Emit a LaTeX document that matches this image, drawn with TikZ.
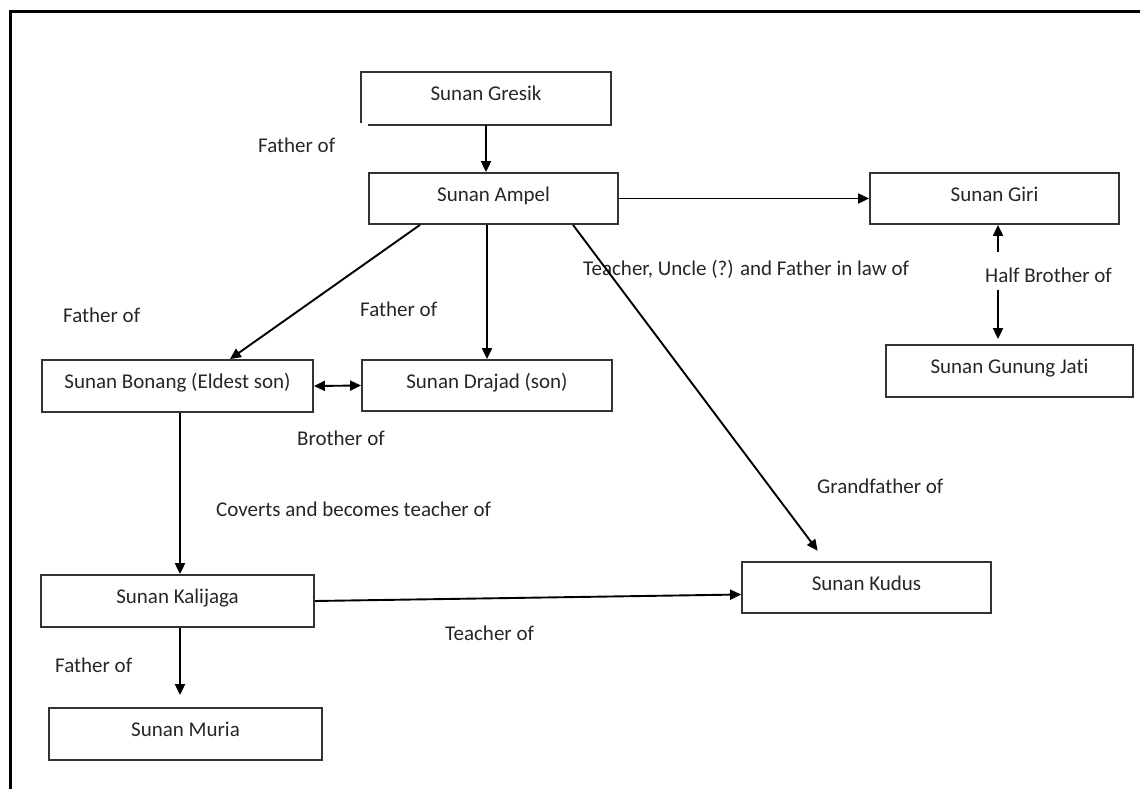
\documentclass[tikz,border=0pt]{standalone}
\usepackage{fontspec}
\setmainfont{Carlito}[Ligatures=NoCommon]
\usetikzlibrary{arrows.meta}

\begin{document}
\begin{tikzpicture}[x=1pt, y=-1pt,
>={Triangle[length=11pt, width=10pt]},
sunannode/.style={rectangle, draw=black!80, line width=1.8pt, text=black!85, font=\fontsize{21}{25}\selectfont, text height=16pt, text depth=11pt, inner sep=0pt, minimum height=51pt},
relation/.style={anchor=base west, text=black!85, font=\fontsize{21}{25}\selectfont, inner sep=0pt},
link/.style={line width=1.9pt, ->},
]
\useasboundingbox (0,0) rectangle (1140,789);
\draw[line width=3pt] (10,789) -- (10,11.5) -- (1140,11.5);
%Nodes
\node[sunannode, minimum width=248pt, draw=none] (gresik) at (486,98.5) {Sunan Gresik};
\node[sunannode, minimum width=249pt] (ampel) at (493.5,198.5) {Sunan Ampel};
\node[sunannode, minimum width=249pt] (giri) at (994.5,198.5) {Sunan Giri};
\node[sunannode, minimum width=247pt, minimum height=52pt] (jati) at (1009.5,371) {Sunan Gunung Jati};
\node[sunannode, minimum width=271pt, minimum height=52pt] (bonang) at (177.5,386) {Sunan Bonang (Eldest son)};
\node[sunannode, minimum width=250pt] (drajad) at (487,385.5) {Sunan Drajad (son)};
\node[sunannode, minimum width=249pt] (kudus) at (866.5,587.5) {Sunan Kudus};
\node[sunannode, minimum width=273pt, minimum height=52pt] (kalijaga) at (177.5,601) {Sunan Kalijaga};
\node[sunannode, minimum width=273pt, minimum height=52pt] (muria) at (185.5,734) {Sunan Muria};
% box of Sunan Gresik, left corner open
\draw[draw=black!80, line width=1.8pt] ([yshift=2pt]gresik.south west) -- (gresik.north west) -- (gresik.north east) -- (gresik.south east) -- ([xshift=7pt]gresik.south west);
%Labels
\node[relation] (fatherA) at (258,152) {Father of};
\node[relation] (fatherB) at (63,322) {Father of};
\node[relation] (fatherC) at (360,316) {Father of};
\node[relation] (teacherA) at (583,275) {Teacher, Uncle (?) and Father in law of};
\node[relation] (halfbrother) at (985,282) {Half Brother of};
\node[relation] (brother) at (297,445) {Brother of};
\node[relation] (coverts) at (216,516) {Coverts and becomes teacher of};
\node[relation] (grandfather) at (817,493) {Grandfather of};
\node[relation] (teacherB) at (445,640) {Teacher of};
\node[relation] (fatherD) at (55,672) {Father of};
\coordinate (hbtop) at (998,252);
\coordinate (hbbot) at (998,290);
%Lines
\draw[link] (gresik.south) -- (gresik.south |- ampel.north);
\draw[link] (ampel.east) -- (giri.west);
\draw[link] ([xshift=-73.5pt]ampel.south) -- ([xshift=52.5pt]bonang.north);
\draw[link] (ampel.south -| drajad.north) -- (drajad.north);
\draw[link, shorten >=13pt] ([xshift=79.5pt]ampel.south) -- ([xshift=-41pt]kudus.north);
\draw[link] (hbtop) -- (hbtop |- giri.south);
\draw[link, shorten >=5pt] (hbbot) -- (hbbot |- jati.north);
\draw[link, <->] (bonang.east) -- (drajad.west);
\draw[link] ([xshift=2.5pt]bonang.south) -- ([xshift=2.5pt]bonang.south |- kalijaga.north);
\draw[link] (kalijaga.east) -- ([yshift=-7pt]kudus.west);
\draw[link, shorten >=12pt] ([xshift=2.5pt]kalijaga.south) -- ([xshift=2.5pt]kalijaga.south |- muria.north);
\end{tikzpicture}
\end{document}
